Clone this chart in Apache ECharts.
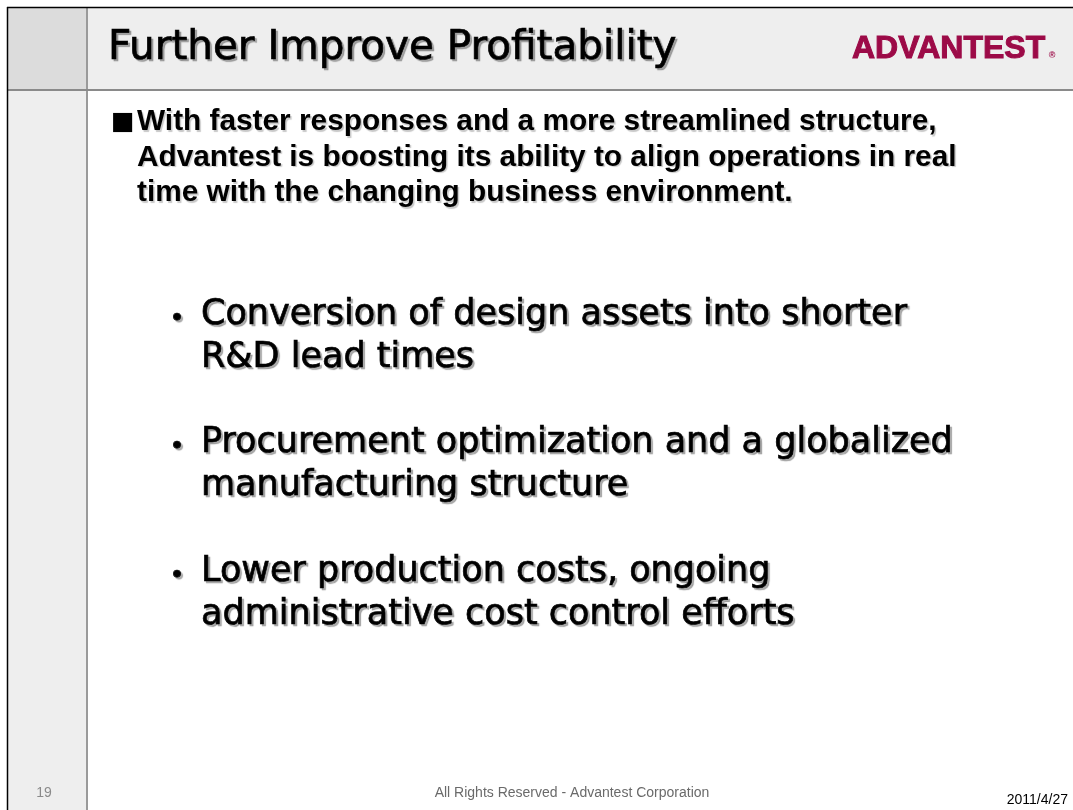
<!DOCTYPE html>
<html>
<head>
<meta charset="utf-8">
<title>Further Improve Profitability</title>
<script src="https://cdn.jsdelivr.net/npm/echarts@6/dist/echarts.min.js"></script>
<style>
  html, body { margin: 0; padding: 0; background: #fff; }
  #slide { width: 1073px; height: 810px; }
</style>
</head>
<body>
<div id="slide"></div>
<script>
// --- slide content ---
var titleText = 'Further Improve Profitability';
var logoText = 'ADVANTEST';
var introMarker = '■';
var introLines = [
  'With faster responses and a more streamlined structure,',
  'Advantest is boosting its ability to align operations in real',
  'time with the changing business environment.'
];
var bulletMark = '・';
var bulletItems = [
  ['Conversion of design assets into shorter', 'R&D lead times'],
  ['Procurement optimization and a globalized', 'manufacturing structure'],
  ['Lower production costs, ongoing', 'administrative cost control efforts']
];
var pageNumber = '19';
var footerText = 'All Rights Reserved - Advantest Corporation';
var dateText = '2011/4/27';

(function () {
  var titleFont = '"DejaVu Sans", Verdana, sans-serif';
  var bodyFont = '"Liberation Sans", Arial, sans-serif';
  // 阴影 + 细描边，模拟原稿偏粗的字体
  var shadow = {
    stroke: '#000',
    lineWidth: 0.7,
    textShadowColor: 'rgba(0,0,0,0.32)',
    textShadowBlur: 1,
    textShadowOffsetX: 2,
    textShadowOffsetY: 2
  };

  function txt(x, y, s, font, fill, align, extra) {
    var st = {
      x: x, y: y, text: s, font: font, fill: fill,
      textAlign: align || 'left', textVerticalAlign: 'middle'
    };
    if (extra) for (var k in extra) st[k] = extra[k];
    return { type: 'text', silent: true, style: st };
  }

  var els = [];

  // frame: header band, left column, separators
  els.push({ type: 'rect', shape: { x: 88, y: 8, width: 985, height: 82 }, style: { fill: '#eeeeee' }, silent: true });
  els.push({ type: 'rect', shape: { x: 8, y: 8, width: 78, height: 82 }, style: { fill: '#dcdcdc' }, silent: true });
  els.push({ type: 'rect', shape: { x: 8, y: 91, width: 78, height: 719 }, style: { fill: '#eeeeee' }, silent: true });
  els.push({ type: 'line', shape: { x1: 87, y1: 8, x2: 87, y2: 810 }, style: { stroke: '#9a9a9a', lineWidth: 2 }, silent: true });
  els.push({ type: 'line', shape: { x1: 8, y1: 90, x2: 1073, y2: 90 }, style: { stroke: '#8a8a8a', lineWidth: 2 }, silent: true });
  els.push({ type: 'line', shape: { x1: 7, y1: 7.5, x2: 1073, y2: 7.5 }, style: { stroke: '#000', lineWidth: 1.5 }, silent: true });
  els.push({ type: 'line', shape: { x1: 7.5, y1: 7, x2: 7.5, y2: 810 }, style: { stroke: '#000', lineWidth: 1.5 }, silent: true });

  // title + logo
  els.push(txt(108, 48, titleText, '40.5px ' + titleFont, '#000', 'left', shadow));
  els.push(txt(852, 49, logoText, '900 32px ' + bodyFont, '#9c0a47', 'left', { stroke: '#9c0a47', lineWidth: 1 }));
  els.push(txt(1052, 56, '®', 'bold 9px ' + bodyFont, '#9c0a47', 'center'));

  // intro paragraph
  var introSoft = {
    textShadowColor: 'rgba(0,0,0,0.22)',
    textShadowBlur: 1,
    textShadowOffsetX: 1.5,
    textShadowOffsetY: 1.5
  };
  els.push(txt(111, 122, introMarker, '25px "DejaVu Sans", sans-serif', '#000', 'left'));
  introLines.forEach(function (line, i) {
    els.push(txt(137, 122 + i * 35.5, line, 'bold 29.8px ' + bodyFont, '#000', 'left', introSoft));
  });

  // bullets
  var blockTop = [315, 443, 572];
  bulletItems.forEach(function (item, b) {
    els.push(txt(177, blockTop[b] + 2, bulletMark, '34px "Noto Sans CJK JP", sans-serif', '#000', 'center', shadow));
    item.forEach(function (line, i) {
      els.push(txt(201, blockTop[b] + i * 43, line, '35px ' + titleFont, '#000', 'left', shadow));
    });
  });

  // footer
  els.push(txt(44, 793, pageNumber, '14px ' + bodyFont, '#8a8a8a', 'center'));
  els.push(txt(572, 793, footerText, '14px ' + bodyFont, '#6a6a6a', 'center'));
  els.push(txt(1068, 800, dateText, '14px ' + bodyFont, '#000', 'right'));

  var chart = echarts.init(document.getElementById('slide'));
  chart.setOption({
    animation: false,
    backgroundColor: '#ffffff',
    graphic: { elements: els }
  });
  window.addEventListener('resize', function () { chart.resize(); });
})();
</script>
</body>
</html>
